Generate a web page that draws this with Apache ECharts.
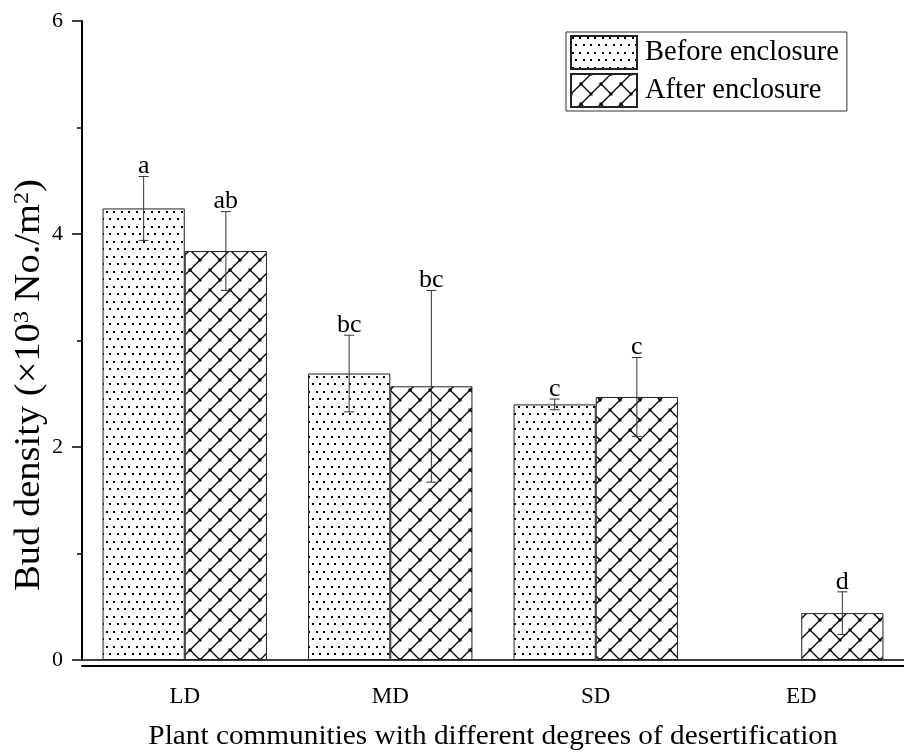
<!DOCTYPE html>
<html>
<head>
<meta charset="utf-8">
<script src="https://cdn.jsdelivr.net/npm/echarts@6/dist/echarts.min.js"></script>
<style>
html,body{margin:0;padding:0;background:#fff;}
#chart{width:904px;height:756px;}
</style>
</head>
<body>
<div id="chart"></div>
<script>
// ---- data ----
const categories = ['LD', 'MD', 'SD', 'ED'];
const seriesNames = ['Before enclosure', 'After enclosure'];
const beforeValues = [4.24, 2.69, 2.40, null];
const afterValues = [3.84, 2.57, 2.47, 0.44];
const beforeErrors = [0.30, 0.36, 0.05, null];
const afterErrors = [0.37, 0.90, 0.37, 0.20];
const beforeLetters = ['a', 'bc', 'c', ''];
const afterLetters = ['ab', 'bc', 'c', 'd'];
const yTicks = [0, 2, 4, 6];

const FONT = '"Liberation Serif", "Times New Roman", serif';

// ---- patterns ----
function dotPattern() {
  const c = document.createElement('canvas');
  c.width = 15; c.height = 15;
  const g = c.getContext('2d');
  g.fillStyle = '#fff'; g.fillRect(0, 0, 15, 15);
  g.fillStyle = '#000';
  [[1,1],[8,1],[4,8],[12,8]].forEach(p => g.fillRect(p[0], p[1], 2, 2));
  return c;
}
function brickPattern() {
  const s = 20;
  const c = document.createElement('canvas');
  c.width = s; c.height = s;
  const g = c.getContext('2d');
  g.fillStyle = '#fff'; g.fillRect(0, 0, s, s);
  g.strokeStyle = '#000'; g.lineWidth = 1.3; g.lineCap = 'butt';
  g.beginPath();
  g.moveTo(-2, s + 2); g.lineTo(s + 2, -2);
  g.moveTo(-4, 4); g.lineTo(4, -4);
  g.moveTo(s - 4, s + 4); g.lineTo(s + 4, s - 4);
  g.moveTo(s / 2, s / 2); g.lineTo(s, s);
  g.moveTo(-s/2, -s/2); g.lineTo(0, 0);
  g.stroke();
  g.fillStyle = '#000';
  [[s/2, s/2], [s, s], [0, 0], [s, 0], [0, s]].forEach(p => g.fillRect(p[0] - 1.5, p[1] - 1.5, 3, 3));
  return c;
}
const dotFill = { image: dotPattern(), repeat: 'repeat' };
const brickFill = { image: brickPattern(), repeat: 'repeat' };

// ---- error bar data ----
const errData = [];
categories.forEach((c, i) => {
  if (beforeValues[i] != null) errData.push([i, beforeValues[i], beforeErrors[i], 0, beforeLetters[i]]);
  if (afterValues[i] != null) errData.push([i, afterValues[i], afterErrors[i], 1, afterLetters[i]]);
});

const chart = echarts.init(document.getElementById('chart'), null, { renderer: 'canvas' });
const option = {
  animation: false,
  backgroundColor: '#fff',
  grid: { left: 82, right: 0, top: 21, bottom: 96, containLabel: false },
  legend: {
    orient: 'vertical',
    left: 566, top: 32,
    itemWidth: 66, itemHeight: 33, itemGap: 3,
    padding: [3, 8, 3, 4],
    borderColor: '#333', borderWidth: 1,
    icon: 'rect',
    textStyle: { fontFamily: FONT, fontSize: 28.5, color: '#000', padding: [0, 0, 0, 3] },
    data: seriesNames
  },
  xAxis: [
    {
      type: 'category', data: categories, position: 'bottom', offset: 6,
      axisLine: { onZero: false, lineStyle: { color: '#000', width: 2 } },
      axisTick: { alignWithLabel: true, length: 8, lineStyle: { color: '#000', width: 2 } },
      axisLabel: { fontFamily: FONT, fontSize: 23, color: '#000', margin: 19 },
      splitLine: { show: false }
    },
    {
      type: 'category', data: categories, position: 'bottom', offset: 6,
      axisLine: { show: false, onZero: false },
      axisTick: { length: 4, lineStyle: { color: '#000', width: 2 } },
      axisLabel: { show: false }, splitLine: { show: false }
    },
    {
      type: 'category', data: categories, position: 'bottom', offset: 0,
      axisLine: { onZero: false, lineStyle: { color: '#000', width: 1.5 } },
      axisTick: { show: false }, axisLabel: { show: false }, splitLine: { show: false }
    }
  ],
  yAxis: {
    type: 'value', min: 0, max: 6, interval: 2,
    axisLine: { show: true, lineStyle: { color: '#000', width: 2 } },
    axisTick: { show: true, length: 10, lineStyle: { color: '#000', width: 1.5 } },
    minorTick: { show: true, splitNumber: 2, length: 5, lineStyle: { color: '#000', width: 1.5 } },
    axisLabel: {
      fontFamily: FONT, fontSize: 22, color: '#000', margin: 19,
      formatter: v => yTicks.includes(v) ? String(v) : ''
    },
    splitLine: { show: false }
  },
  graphic: [
    {
      type: 'text', rotation: Math.PI / 2,
      x: 30, y: 385, scaleX: 1.1,
      style: {
        text: '{n|Bud density (×10}{s|3}{n| No./m}{s|2}{n|)}',
        rich: {
          n: { fontFamily: FONT, fontSize: 35, fill: '#000' },
          s: { fontFamily: FONT, fontSize: 22, fill: '#000', verticalAlign: 'top', padding: [0, 0, 16, 0] }
        },
        align: 'center', verticalAlign: 'middle'
      }
    },
    {
      type: 'text', x: 493, y: 737, scaleX: 1.085,
      style: {
        text: 'Plant communities with different degrees of desertification',
        fontFamily: FONT, fontSize: 27, fill: '#000',
        align: 'center', verticalAlign: 'middle'
      }
    }
  ],
  series: [
    {
      name: seriesNames[0], type: 'bar', data: beforeValues,
      barWidth: '40%', barGap: '0%',
      itemStyle: { color: dotFill, borderColor: '#222', borderWidth: 1 }
    },
    {
      name: seriesNames[1], type: 'bar', data: afterValues,
      barWidth: '40%', barGap: '0%',
      itemStyle: { color: brickFill, borderColor: '#222', borderWidth: 1 }
    },
    {
      type: 'custom', data: errData, z: 10,
      encode: { x: 0, y: 1 },
      renderItem: function (params, api) {
        const idx = api.value(0), v = api.value(1), e = api.value(2), s = api.value(3);
        const letter = errData[params.dataIndex][4];
        const w = api.size([1, 0])[0];
        const cx = api.coord([idx, v])[0] + (s === 0 ? -0.2 : 0.2) * w;
        const yt = api.coord([idx, v + e])[1];
        const yb = api.coord([idx, v - e])[1];
        const cap = 5;
        const ls = { stroke: '#333', lineWidth: 1 };
        return {
          type: 'group',
          children: [
            { type: 'line', shape: { x1: cx, y1: yt, x2: cx, y2: yb }, style: ls },
            { type: 'line', shape: { x1: cx - cap, y1: yt, x2: cx + cap, y2: yt }, style: ls },
            { type: 'line', shape: { x1: cx - cap, y1: yb, x2: cx + cap, y2: yb }, style: ls },
            { type: 'text', x: cx, y: yt + 3,
              style: { text: letter, fontFamily: FONT, fontSize: 26, fill: '#000', align: 'center', verticalAlign: 'bottom' } }
          ]
        };
      }
    }
  ]
};
chart.setOption(option);
</script>
</body>
</html>
